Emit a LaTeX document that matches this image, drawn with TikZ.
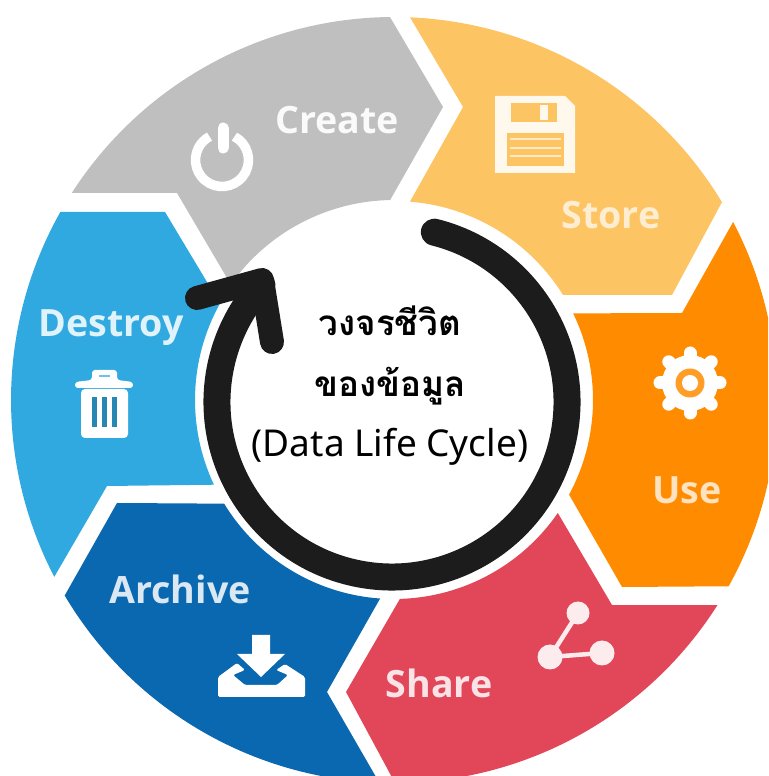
\documentclass[tikz,border=0pt]{standalone}
\usepackage{fontspec}
\usetikzlibrary{calc}
\setmainfont{Open Sans}
\newfontfamily\thaifont[Script=Thai]{Loma}
\newfontfamily\latinfont{Noto Sans}
\definecolor{cgrey}{HTML}{BFBFBF}
\definecolor{cyellow}{HTML}{FDC463}
\definecolor{corange}{HTML}{FF8C00}
\definecolor{cred}{HTML}{E14659}
\definecolor{cdblue}{HTML}{0A68B0}
\definecolor{clblue}{HTML}{30A9E0}
\definecolor{cink}{HTML}{1C1C1C}
\tikzset{
  seglabel/.style={font=\fontsize{37.6}{38}\selectfont\bfseries,anchor=base,inner sep=0pt},
  thailabel/.style={font=\thaifont\bfseries\fontsize{35}{35}\selectfont,anchor=base,inner sep=0pt,text=black},
  latinlabel/.style={font=\latinfont\fontsize{37}{38}\selectfont,anchor=base,inner sep=0pt,text=black},
}
\begin{document}
\begin{tikzpicture}[x=1pt,y=1pt]
\useasboundingbox (0,0) rectangle (768,776);
\clip (0,0) rectangle (768,776);
\coordinate (c) at (394,376);
\def\Ro{383pt}\def\Ri{199pt}
% segments
\fill[cgrey] ($(c)+(147.26:383)$) arc[start angle=147.26,end angle=90.6,radius=\Ro]
  -- (443,669) -- ($(c)+(91.1:200)$) arc[start angle=91.1,end angle=144.7,radius=200pt] -- (177,583) -- cycle;
\fill[cyellow] ($(c)+(87.6:383)$) arc[start angle=87.6,end angle=31.1,radius=\Ro]
  -- (672,481) -- ($(c)+(31.9:199)$) arc[start angle=31.9,end angle=85.4,radius=\Ri] -- (463,669) -- cycle;
\fill[corange] ($(c)+(27.7:383)$) arc[start angle=27.7,end angle=-29.1,radius=\Ro]
  -- (622,189) -- ($(c)+(-28.4:199)$) arc[start angle=-28.4,end angle=25.8,radius=\Ri] -- (682,463) -- cycle;
\fill[cred] ($(c)+(-32.4:383)$) arc[start angle=-32.4,end angle=-89.85,radius=\Ro]
  -- (346,84) -- ($(c)+(-88.3:199)$) arc[start angle=-88.3,end angle=-34.6,radius=\Ri] -- (612,171) -- cycle;
\fill[cdblue] ($(c)+(-92.2:383)$) arc[start angle=-92.2,end angle=-149.3,radius=\Ro]
  -- (117,273) -- ($(c)+(-148.6:199)$) arc[start angle=-148.6,end angle=-94,radius=\Ri] -- (327,84) -- cycle;
\fill[clblue] ($(c)+(207.5:383)$) arc[start angle=207.5,end angle=150.6,radius=\Ro]
  -- (165,564) -- ($(c)+(151:199)$) arc[start angle=151,end angle=205.2,radius=\Ri] -- (107,290) -- cycle;
% centre disc and cycle arrow
\coordinate (rc) at (392,374);
\fill[white] (rc) circle[radius=195pt];
\draw[cink,line width=27pt,line cap=round] ($(rc)+(76:175)$) arc[start angle=76,end angle=-222,radius=175pt];
\coordinate (hl) at (197,478);
\coordinate (ht) at (262,496);
\coordinate (hr) at (272,434);
\draw[cink,line width=24pt,line cap=round,line join=round] (hl) -- (ht) -- (hr);
% power icon
\draw[white,line width=9.5pt] (222,616) ++(62:26.5) arc[start angle=62,end angle=-242,radius=26.5pt];
\draw[white,line width=11pt,line cap=round] (223,648) -- (223,628);
% floppy icon
\fill[white!88!cyellow] (495,680) -- (565,680) -- (575,670) -- (575,603) -- (495,603) -- cycle;
\fill[cyellow] (511,673) rectangle (557,654);
\fill[white!88!cyellow] (540,671) rectangle (548,656);
\fill[cyellow] (507,643) rectangle (564,610);
\foreach \yy in {638,629,621}{\fill[white!65!cyellow] (510,\yy) rectangle (561,\yy-2.5);}
% gear icon
\fill[white] (690,393) circle[radius=28pt];
\foreach \aa in {0,45,...,315}{\draw[white,line width=13pt,line cap=round] (690,393) -- ++(\aa:30);}
\fill[corange!85!white] (690,393) circle[radius=14.5pt];
\fill[white] (690,393) circle[radius=8pt];
% trash icon
\fill[white,rounded corners=3pt] (92,406) -- (92,396) -- (75,394) -- (75,388) -- (133,388) -- (133,394) -- (117,396) -- (117,406) -- cycle;
\fill[clblue!70!white] (99,401) rectangle (110,399);
\fill[white,rounded corners=4pt] (81,387) -- (128,387) -- (128,338) -- (81,338) -- cycle;
\foreach \xx in {92,102,112}{\fill[clblue!80!black] (\xx,379) rectangle (\xx+5,349);}
% share icon
\draw[white!90!cred,line width=4.5pt] (578,163) -- (550,119) -- (602,123);
\fill[white!90!cred] (578,163) circle[radius=11.5pt] (550,119) circle[radius=12.5pt] (602,123) circle[radius=12.5pt];
% inbox icon
\fill[white,rounded corners=1.5pt] (218,99) -- (237,113) -- (245,106) -- (233,101) -- (245,91) -- (277,91) -- (288,101) -- (276,106) -- (285,112) -- (305,99) -- (305,79) -- (218,79) -- cycle;
\fill[white] (252,141) -- (270,141) -- (270,122) -- (285,122) -- (261,99) -- (237,122) -- (252,122) -- cycle;
% labels
\node[seglabel,text=white!92!cgrey] (lcreate) at (337,642) {Create};
\node[seglabel,text=white!70!cyellow] (lstore) at (611,547) {Store};
\node[seglabel,text=white!75!corange] (luse) at (687,272) {Use};
\node[seglabel,text=white!85!cred] (lshare) at (439,78) {Share};
\node[seglabel,text=white!85!cdblue] (larchive) at (180,172) {Archive};
\node[seglabel,text=white!85!clblue] (ldestroy) at (111,439) {Destroy};
\node[thailabel] (t1) at (390,440) {วงจรชีวิต};
\node[thailabel] (t2) at (390,379) {ของข้อมูล};
\node[latinlabel] (t3) at (390,319) {(Data Life Cycle)};
\end{tikzpicture}
\end{document}
